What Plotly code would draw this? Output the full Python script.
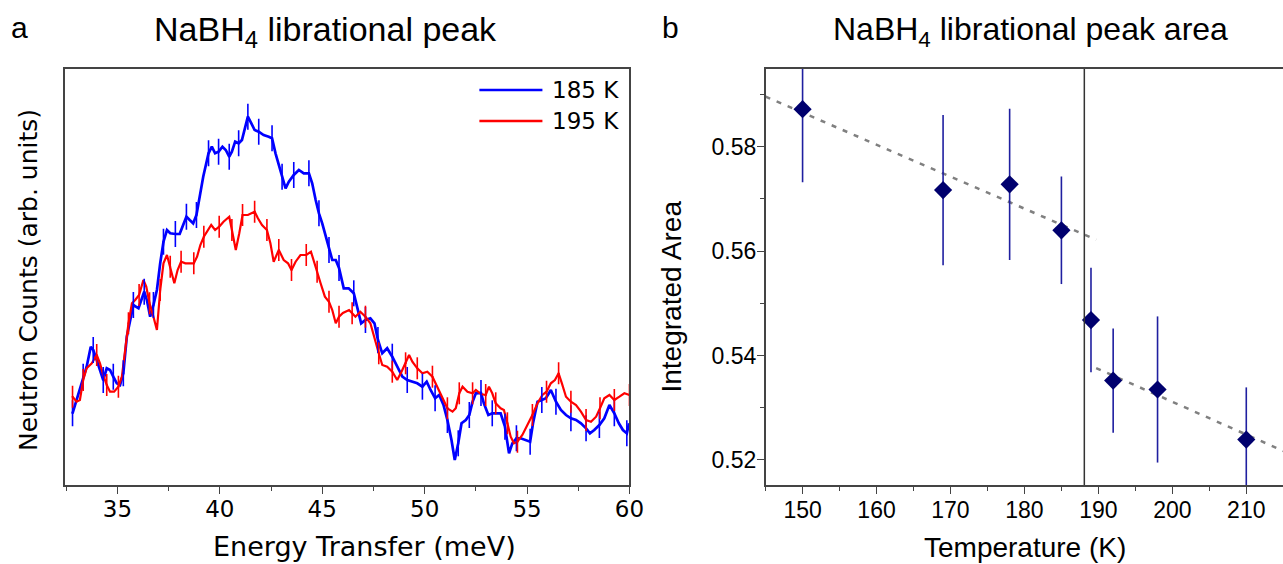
import plotly.graph_objects as go

# ---------------- Panel a: librational peak (arb. units) ----------------
E_185 = [32.81, 33.01, 33.17, 33.33, 33.50, 33.70, 33.82, 33.99, 34.15, 34.31,
         34.48, 34.64, 34.80, 34.97, 35.13, 35.29, 35.46, 35.62, 35.78, 36.03,
         36.20, 36.31, 36.44, 36.60, 36.76, 36.93, 37.09, 37.25, 37.42, 37.58,
         37.83, 38.04, 38.21, 38.37, 38.53, 38.70, 38.86, 39.02, 39.19, 39.45,
         39.61, 39.77, 39.94, 40.13, 40.29, 40.46, 40.59, 40.75, 40.92, 41.08,
         41.25, 41.37, 41.54, 41.70, 41.90, 42.14, 42.39, 42.55, 42.72, 42.88,
         43.04, 43.21, 43.37, 43.61, 43.86, 44.10, 44.35, 44.51, 44.68, 44.84,
         45.00, 45.17, 45.33, 45.49, 45.66, 45.82, 46.05, 46.29, 46.54, 46.70,
         46.90, 47.11, 47.35, 47.55, 47.72, 47.93, 48.17, 48.42, 48.66, 48.91,
         49.15, 49.40, 49.64, 49.89, 50.10, 50.29, 50.51, 50.71, 50.92, 51.11,
         51.31, 51.47, 51.64, 51.80, 52.01, 52.18, 52.34, 52.50, 52.75, 52.89,
         53.11, 53.30, 53.50, 53.71, 53.92, 54.12, 54.28, 54.48, 54.69, 54.94,
         55.15, 55.29, 55.51, 55.72, 55.92, 56.16, 56.41, 56.65, 56.90, 57.14,
         57.39, 57.63, 57.88, 58.07, 58.28, 58.53, 58.77, 59.02, 59.26, 59.48,
         59.68, 59.87, 59.98]
counts_185 = [7.17, 8.5, 9.7, 10.83, 11.83, 13.83, 13.5, 12.5, 11.5, 10.5,
              11.67, 11.5, 10.83, 10.17, 10.0, 11.17, 14.83, 16.5, 18.0, 17.67,
              18.83, 19.33, 18.5, 16.83, 18.0, 19.5, 22.17, 24.33, 25.5, 25.17,
              25.1, 25.1, 26.0, 26.83, 26.5, 26.17, 27.0, 28.83, 30.83, 33.17,
              33.83, 33.17, 33.33, 33.83, 33.5, 32.83, 33.33, 34.33, 34.17, 34.5,
              35.83, 36.83, 36.17, 35.5, 35.33, 35.0, 34.83, 34.67, 33.17, 32.0,
              30.83, 29.67, 30.33, 31.0, 31.5, 31.17, 31.17, 30.17, 28.5, 27.17,
              26.17, 24.83, 23.5, 22.5, 22.5, 21.7, 19.67, 19.67, 19.17, 17.83,
              16.17, 16.5, 16.67, 16.17, 14.5, 13.17, 13.67, 12.83, 11.83, 10.83,
              10.5, 10.33, 10.17, 9.83, 10.33, 9.5, 8.67, 9.0, 8.0, 6.5,
              4.5, 2.5, 4.17, 6.17, 6.5, 7.0, 8.33, 9.17, 9.2, 8.17,
              7.0, 7.17, 7.17, 7.17, 5.83, 3.17, 4.17, 4.67, 4.67, 4.5,
              4.33, 6.17, 8.33, 8.5, 8.67, 9.5, 8.33, 7.5, 7.0, 6.67,
              6.5, 6.17, 5.67, 5.17, 5.5, 6.0, 6.67, 8.0, 7.17, 6.17,
              5.5, 5.17, 6.17]
err_185 = 1.3

E_195 = [32.81, 33.01, 33.17, 33.33, 33.50, 33.75, 33.99, 34.15, 34.31, 34.48,
         34.64, 34.84, 35.05, 35.22, 35.38, 35.54, 35.71, 35.87, 36.06, 36.27,
         36.41, 36.57, 36.76, 36.93, 37.09, 37.25, 37.42, 37.58, 37.78, 37.94,
         38.11, 38.32, 38.56, 38.73, 38.89, 39.05, 39.22, 39.58, 39.77, 39.97,
         40.18, 40.46, 40.59, 40.78, 40.95, 41.11, 41.37, 41.57, 41.70, 41.86,
         42.06, 42.30, 42.47, 42.63, 42.88, 43.12, 43.33, 43.50, 43.70, 43.94,
         44.22, 44.45, 44.59, 44.75, 44.92, 45.13, 45.33, 45.49, 45.66, 45.82,
         46.01, 46.31, 46.46, 46.62, 46.86, 47.11, 47.35, 47.55, 47.76, 47.93,
         48.17, 48.42, 48.66, 48.87, 49.07, 49.24, 49.40, 49.64, 49.89, 50.13,
         50.38, 50.62, 50.87, 51.11, 51.36, 51.52, 51.69, 51.85, 52.09, 52.34,
         52.50, 52.75, 52.98, 53.14, 53.30, 53.47, 53.71, 53.87, 54.04, 54.20,
         54.36, 54.53, 54.77, 55.02, 55.26, 55.51, 55.75, 55.95, 56.16, 56.36,
         56.54, 56.70, 56.90, 57.14, 57.39, 57.63, 57.88, 58.12, 58.37, 58.56,
         58.77, 59.02, 59.26, 59.51, 59.75, 60.0]
counts_195 = [8.83, 8.33, 8.5, 10.5, 11.67, 12.17, 13.0, 12.17, 11.0, 10.0,
              9.33, 9.33, 9.83, 10.83, 13.5, 16.17, 18.17, 18.5, 19.0, 20.5,
              19.83, 18.17, 16.83, 15.5, 19.5, 22.17, 23.0, 21.83, 20.17, 21.5,
              22.33, 22.17, 22.17, 22.17, 22.83, 24.0, 24.83, 26.0, 25.5, 25.83,
              26.33, 26.83, 25.5, 23.5, 25.17, 27.0, 27.0, 27.17, 27.33, 26.67,
              26.0, 25.5, 24.17, 22.33, 23.5, 22.5, 22.17, 21.5, 22.33, 23.0,
              23.0, 23.33, 22.5, 21.33, 20.17, 18.83, 18.33, 17.5, 16.17, 16.83,
              17.2, 17.5, 17.17, 16.83, 17.33, 16.83, 16.17, 14.83, 13.17, 12.0,
              11.83, 11.33, 10.5, 11.33, 12.17, 13.0, 12.33, 11.67, 11.17, 11.33,
              10.83, 9.83, 8.83, 7.67, 7.33, 7.67, 9.17, 9.83, 9.33, 9.17,
              9.5, 9.1, 9.0, 9.83, 9.17, 8.17, 7.67, 7.5, 6.17, 4.83,
              4.17, 4.33, 5.0, 6.0, 7.0, 8.17, 9.0, 9.33, 10.17, 10.5,
              11.17, 10.17, 8.83, 8.33, 8.0, 7.33, 6.5, 6.33, 6.83, 7.67,
              8.67, 9.0, 8.5, 8.83, 9.17, 9.0]
err_195 = 1.1

series_names = ["185 K", "195 K"]
series_colors = ["#0000ff", "#ff0000"]

# ---------------- Panel b: integrated peak area ----------------
T = [150, 169, 178, 185, 189, 192, 198, 210]
area = [0.5872, 0.5717, 0.5728, 0.5640, 0.5468, 0.5352, 0.5335, 0.5239]
area_err = [0.0140, 0.0144, 0.0145, 0.0103, 0.0100, 0.0100, 0.0140, 0.0100]
fit_low_T = [145, 189.7]
fit_low_area = [0.5896, 0.5622]
fit_high_T = [189.7, 216.0]
fit_high_area = [0.5376, 0.5211]
T_transition = 188.1

# design grid (reference pixels); the page is shown slightly squeezed horizontally,
# so the figure is made a little wider than the design grid
RW, RH = 1283, 564
W, H = 1299, 564

FONT_A = "DejaVu Sans"
FONT_B = "Liberation Sans, Arial"

fig = go.Figure()

# panel a traces
fig.add_trace(go.Scatter(x=E_185, y=counts_185, mode="lines", name=series_names[0],
                         line=dict(color=series_colors[0], width=2.7), xaxis="x", yaxis="y"))
fig.add_trace(go.Scatter(x=E_195, y=counts_195, mode="lines", name=series_names[1],
                         line=dict(color=series_colors[1], width=2.2), xaxis="x", yaxis="y"))
fig.add_trace(go.Scatter(x=E_185[::3], y=counts_185[::3], mode="markers", showlegend=False,
                         marker=dict(size=2, color=series_colors[0]),
                         error_y=dict(type="constant", value=err_185, color=series_colors[0],
                                      thickness=1.6, width=0),
                         xaxis="x", yaxis="y", hoverinfo="skip"))
fig.add_trace(go.Scatter(x=E_195[::3], y=counts_195[::3], mode="markers", showlegend=False,
                         marker=dict(size=2, color=series_colors[1]),
                         error_y=dict(type="constant", value=err_195, color=series_colors[1],
                                      thickness=1.6, width=0),
                         xaxis="x", yaxis="y", hoverinfo="skip"))

# panel b traces
for fx, fy in ((fit_low_T, fit_low_area), (fit_high_T, fit_high_area)):
    fig.add_trace(go.Scatter(x=fx, y=fy, mode="lines", showlegend=False,
                             line=dict(color="#808080", width=2.5, dash="5px,7px"),
                             xaxis="x2", yaxis="y2"))
fig.add_trace(go.Scatter(x=T, y=area, mode="markers", showlegend=False,
                         marker=dict(symbol="diamond", size=14, color="#00006e"),
                         error_y=dict(type="data", array=area_err, color="#1f1fa0",
                                      thickness=1.6, width=0),
                         xaxis="x2", yaxis="y2"))

fig.add_shape(type="line", xref="x2", yref="y2 domain", x0=T_transition, x1=T_transition,
              y0=0, y1=1, line=dict(color="#333333", width=1.5))

# legend drawn as key lines + labels inside panel a (top right)
legend_rows_y = [90, 121]
for name, col, ly in zip(series_names, series_colors, legend_rows_y):
    fig.add_shape(type="line", xref="paper", yref="paper",
                  x0=479 / RW, x1=542 / RW, y0=1 - ly / RH, y1=1 - ly / RH,
                  line=dict(color=col, width=2.6))
    fig.add_annotation(text=name, x=550 / RW, y=1 - ly / RH, xref="paper", yref="paper",
                       showarrow=False, xanchor="left", yanchor="middle",
                       font=dict(family=FONT_A, size=23, color="black"))

ydom = [(RH - 485) / RH, (RH - 69) / RH]
line_col = "#444444"

fig.update_layout(
    width=W, height=H, autosize=False,
    margin=dict(l=0, r=0, t=0, b=0),
    paper_bgcolor="white", plot_bgcolor="white",
    showlegend=False,
    xaxis=dict(domain=[65 / RW, 629 / RW], range=[32.445, 60.0], anchor="y",
               tick0=0, dtick=5, ticks="outside", ticklen=7, tickwidth=1.3,
               tickcolor=line_col, ticklabelstandoff=-4,
               minor=dict(ticks="outside", ticklen=4, dtick=2.5, tick0=0, tickcolor=line_col),
               showline=True, mirror=True, linecolor=line_col, linewidth=1.5,
               showgrid=False, zeroline=False,
               tickfont=dict(family=FONT_A, size=23, color="black")),
    yaxis=dict(domain=ydom, range=[0, 41.6], anchor="x",
               showticklabels=False, ticks="", showline=True, mirror=True,
               linecolor=line_col, linewidth=1.5, showgrid=False, zeroline=False),
    xaxis2=dict(domain=[765 / RW, 1.0], range=[145, 215.1], anchor="y2",
                tick0=0, dtick=10, ticks="outside", ticklen=7, tickwidth=1.3,
                tickcolor=line_col, ticklabelstandoff=-3,
                minor=dict(ticks="outside", ticklen=4, dtick=5, tick0=0, tickcolor=line_col),
                showline=True, mirror=True, linecolor=line_col, linewidth=1.5,
                showgrid=False, zeroline=False,
                tickfont=dict(family=FONT_B, size=23, color="black")),
    yaxis2=dict(domain=ydom, range=[0.5152, 0.5949], anchor="x2",
                tick0=0, dtick=0.02, tickformat=".2f", ticks="outside", ticklen=7,
                tickwidth=1.3, tickcolor=line_col, ticklabelstandoff=-4,
                minor=dict(ticks="outside", ticklen=4, dtick=0.01, tick0=0, tickcolor=line_col),
                showline=True, mirror=False, linecolor=line_col, linewidth=1.5,
                showgrid=False, zeroline=False,
                tickfont=dict(family=FONT_B, size=23, color="black")),
)


def ann(text, x, y, size, family, angle=0):
    fig.add_annotation(text=text, x=x / RW, y=1 - y / RH, xref="paper", yref="paper",
                       showarrow=False, xanchor="center", yanchor="middle",
                       textangle=angle, font=dict(family=family, size=size, color="black"))


ann("a", 19, 28, 30, FONT_B)
ann("NaBH<sub>4</sub> librational peak", 325, 32, 34, FONT_B)
ann("b", 670, 28, 30, FONT_B)
ann("NaBH<sub>4</sub> librational peak area", 1030, 32, 32, FONT_B)
ann("Energy Transfer (meV)", 364, 546, 27, FONT_A)
ann("Neutron Counts (arb. units)", 28, 280, 25, FONT_A, -90)
ann("Temperature (K)", 1024, 547, 28, FONT_B)
ann("Integrated Area", 670, 297, 28, FONT_B, -90)

fig.write_html("out.html",
               config={"responsive": False, "displayModeBar": False},
               post_script="document.documentElement.style.margin='0';"
                           "document.body.style.margin='0';"
                           "document.documentElement.style.overflow='hidden';"
                           "document.body.style.overflow='hidden';")
